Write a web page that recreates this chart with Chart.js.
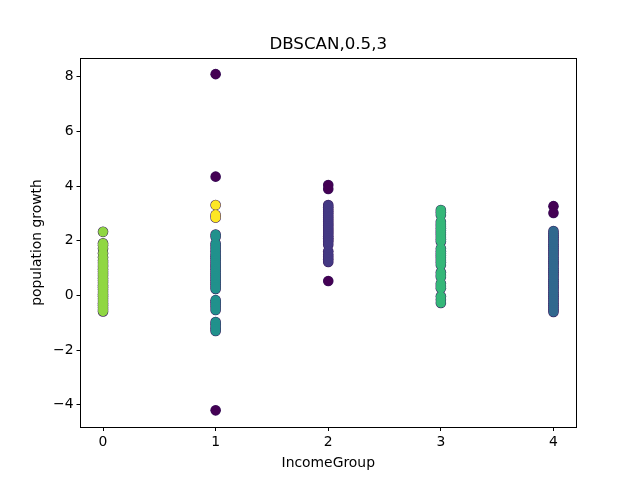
<!DOCTYPE html>
<html>
<head>
<meta charset="utf-8">
<script src="https://cdn.jsdelivr.net/npm/chart.js@4"></script>
<style>
  html, body { margin: 0; padding: 0; background: #fff; }
  canvas { display: block; }
</style>
</head>
<body>
<canvas id="myChart" width="640" height="480"></canvas>
<script>
const chartTitle = "DBSCAN,0.5,3";
const xLabel = "IncomeGroup";
const yLabel = "population growth";
const xTicks = [0, 1, 2, 3, 4];
const yTicks = [-4, -2, 0, 2, 4, 6, 8];

// population growth per income group, one list per DBSCAN cluster
const noiseGroup1 = [8.1, 4.35, -4.2];
const noiseGroup2 = [4.04, 3.9, 0.53];
const noiseGroup4 = [3.27, 3.02];
const clusterGroup0 = [2.33, 1.91, 1.84, 1.72, 1.55, 1.4, 1.28, 1.2, 1.12, 1.05, 0.96, 0.88, 0.8, 0.72, 0.63, 0.55, 0.47, 0.38, 0.3, 0.22, 0.13, 0.05, -0.03, -0.12, -0.2, -0.28, -0.36, -0.44, -0.52, -0.58];
const clusterGroup1 = [2.23, 2.15, 1.9, 1.82, 1.72, 1.62, 1.52, 1.44, 1.36, 1.28, 1.2, 1.12, 1.04, 0.96, 0.88, 0.8, 0.72, 0.64, 0.56, 0.48, 0.4, 0.32, 0.24, -0.17, -0.25, -0.33, -0.42, -0.53, -0.97, -1.05, -1.14, -1.22, -1.3];
const clusterGroup1High = [3.31, 2.95, 2.85];
const clusterGroup2 = [3.31, 3.23, 3.15, 3.07, 3.0, 2.92, 2.85, 2.77, 2.7, 2.62, 2.55, 2.47, 2.4, 2.32, 2.25, 2.17, 2.1, 2.03, 1.97, 1.86, 1.62, 1.5, 1.42, 1.33, 1.23];
const clusterGroup3 = [3.13, 3.05, 2.95, 2.7, 2.62, 2.54, 2.46, 2.38, 2.3, 2.22, 2.14, 2.06, 1.98, 1.72, 1.62, 1.54, 1.46, 1.38, 1.3, 1.22, 1.12, 0.85, 0.75, 0.68, 0.44, 0.35, 0.27, -0.03, -0.15, -0.27];
const clusterGroup4 = [2.36, 2.28, 2.2, 2.12, 2.04, 1.96, 1.88, 1.8, 1.72, 1.64, 1.56, 1.48, 1.4, 1.32, 1.24, 1.16, 1.08, 1.0, 0.92, 0.84, 0.76, 0.68, 0.6, 0.52, 0.44, 0.36, 0.28, 0.2, 0.12, 0.04, -0.04, -0.12, -0.2, -0.28, -0.36, -0.44, -0.52, -0.6];

function points(x, values) {
  return values.map(v => ({ x: x, y: v }));
}

// dark outline pass sits under the fill, so the edges only show around each cluster
function outline(label, data) {
  return { label: label + ' edge', data: data, backgroundColor: '#3a1a5e', borderWidth: 0, pointRadius: 5.3, pointHoverRadius: 5.3 };
}

function series(label, color, data) {
  return { label: label, data: data, backgroundColor: color, borderWidth: 0, pointRadius: 4.8, pointHoverRadius: 4.8 };
}

// Chart.js paints the first dataset last, so the fill goes before its outline
function pair(label, color, data) {
  return [series(label, color, data), outline(label, data)];
}

const fontFamily = "'DejaVu Sans'";
const ctx = document.getElementById('myChart').getContext('2d');
const chart = new Chart(ctx, {
  type: 'scatter',
  data: {
    datasets: [
      ...pair('group 0', '#90d743', points(0, clusterGroup0)),
      ...pair('group 1', '#21918c', points(1, clusterGroup1)),
      ...pair('group 1 high', '#fde725', points(1, clusterGroup1High)),
      ...pair('group 2', '#443983', points(2, clusterGroup2)),
      ...pair('group 3', '#35b779', points(3, clusterGroup3)),
      ...pair('group 4', '#31688e', points(4, clusterGroup4)),
      ...pair('noise 1', '#440154', points(1, noiseGroup1)),
      ...pair('noise 2', '#440154', points(2, noiseGroup2)),
      ...pair('noise 4', '#440154', points(4, noiseGroup4))
    ]
  },
  options: {
    responsive: false,
    animation: false,
    layout: { padding: { left: 0, right: 64, top: 0, bottom: 0 } },
    plugins: {
      legend: { display: false },
      title: { display: false },
      tooltip: { enabled: false }
    },
    scales: {
      x: {
        type: 'linear',
        position: 'bottom',
        min: -0.2,
        max: 4.2,
        afterBuildTicks: scale => { scale.ticks = xTicks.map(v => ({ value: v })); },
        afterFit: scale => { scale.height = 53; },
        grid: { drawOnChartArea: false, color: '#000', tickLength: 4, tickWidth: 1 },
        border: { color: '#000', width: 1 },
        ticks: { color: '#000', padding: 3, maxRotation: 0, font: { family: fontFamily, size: 13.9 } },
        title: { display: true, text: xLabel, color: '#000', padding: { top: 3, bottom: 8 }, font: { family: fontFamily, size: 13.9 } }
      },
      y: {
        type: 'linear',
        position: 'left',
        min: -4.81,
        max: 8.69,
        afterBuildTicks: scale => { scale.ticks = yTicks.map(v => ({ value: v })); },
        afterFit: scale => { scale.width = 80.5; },
        grid: { drawOnChartArea: false, color: '#000', tickLength: 4, tickWidth: 1 },
        border: { color: '#000', width: 1 },
        ticks: {
          color: '#000',
          padding: 3,
          font: { family: fontFamily, size: 13.9 },
          callback: v => String(v).replace('-', '\u2212')
        },
        title: { display: true, text: yLabel, color: '#000', padding: { top: 29, bottom: 4 }, font: { family: fontFamily, size: 13.9 } }
      },
      // top axis only carries the title so it centres over the plot area
      top: {
        type: 'linear',
        axis: 'x',
        position: 'top',
        min: -0.2,
        max: 4.2,
        afterFit: scale => { scale.height = 58; },
        grid: { display: false },
        border: { display: true, color: '#000', width: 1 },
        ticks: { display: false },
        title: { display: true, text: chartTitle, color: '#000', padding: { top: 35, bottom: 0 }, font: { family: fontFamily, size: 16.67, weight: 'normal' } }
      },
      right: {
        type: 'linear',
        axis: 'y',
        position: 'right',
        min: -4.81,
        max: 8.69,
        afterFit: scale => { scale.width = 0; },
        grid: { display: false },
        border: { display: true, color: '#000', width: 1 },
        ticks: { display: false }
      }
    }
  }
});
</script>
</body>
</html>
